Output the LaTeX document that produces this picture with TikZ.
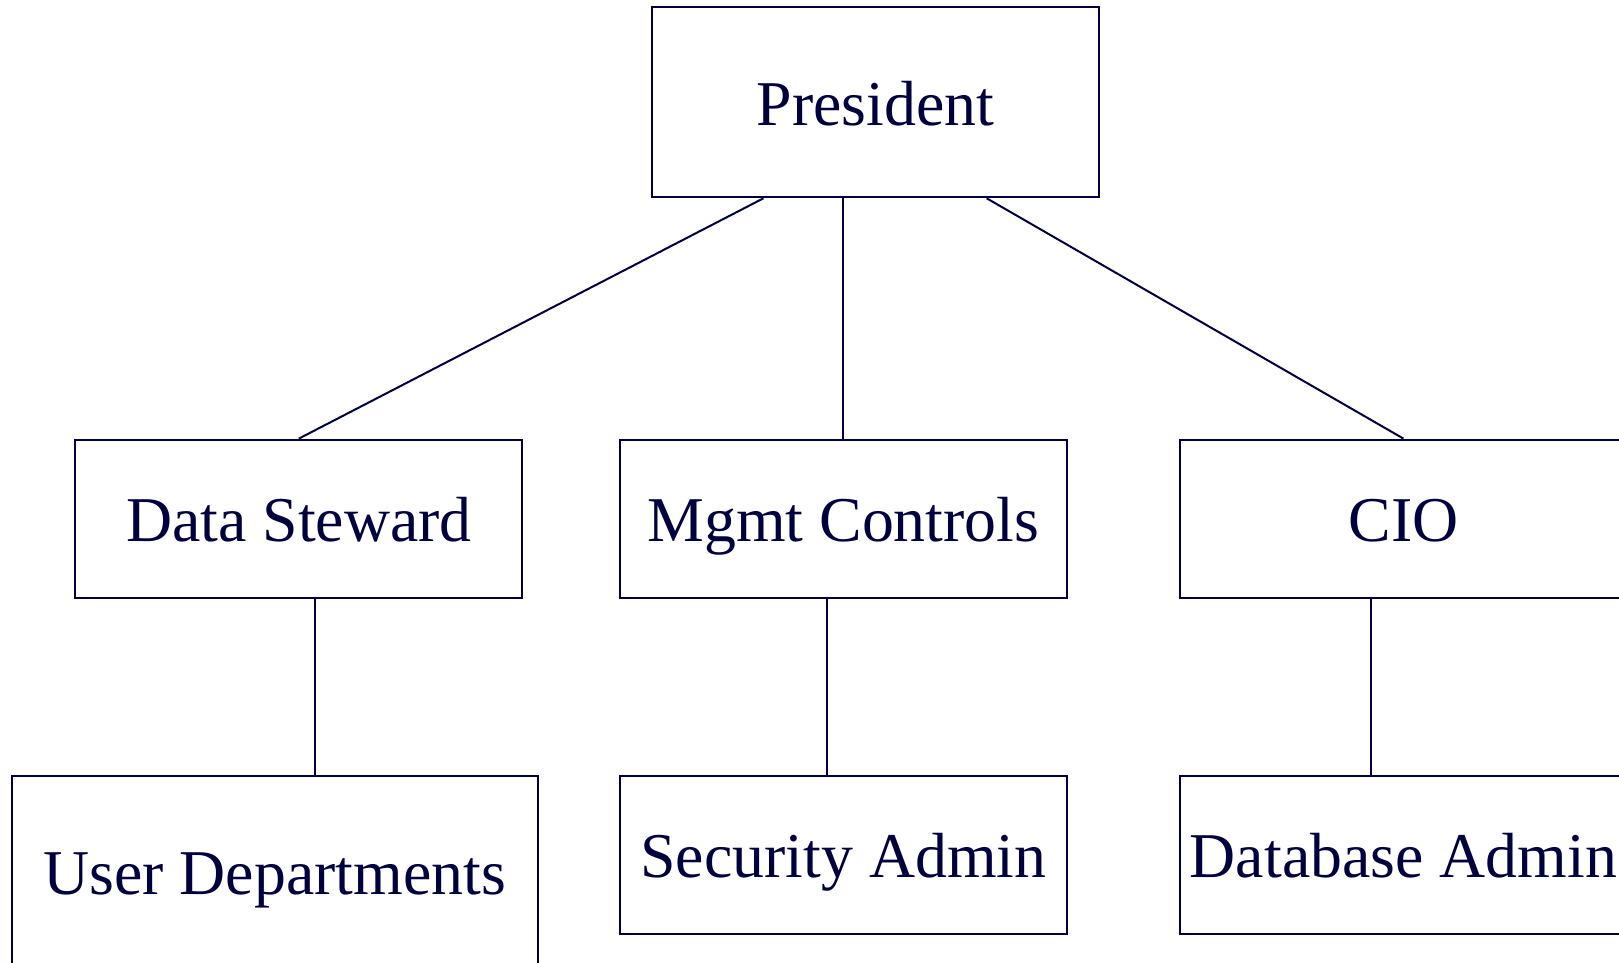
\documentclass[tikz,border=0pt]{standalone}
\usepackage{fontspec}
\setmainfont{Liberation Serif}
\definecolor{navy}{RGB}{0,0,62}
\begin{document}
\begin{tikzpicture}[x=1pt,y=-1pt,
  orgbox/.style={draw=navy, line width=2pt, rectangle, inner sep=0pt,
    minimum width=447pt, minimum height=158pt, text=navy,
    font=\fontsize{63.8}{70}\selectfont, text height=46.6pt, text depth=0pt},
  link/.style={draw=navy, line width=2pt}]
\useasboundingbox (0,0) rectangle (1619,963);
\clip (0,0) rectangle (1619,963);
\fill[white] (0,0) rectangle (1619,963);
\node[orgbox, minimum height=190pt] (pres) at (875.4,102.3) {President};
\node[orgbox] (ds)   at (298.9,518.6) {Data Steward};
\node[orgbox] (mgmt) at (843.4,518.6) {Mgmt Controls};
\node[orgbox] (cio)  at (1403.4,518.6) {CIO};
\node[orgbox, minimum width=526pt, minimum height=191pt] (ud) at (274.7,871.1) {User Departments};
\node[orgbox] (sec)  at (843.4,854.5) {Security Admin};
\node[orgbox] (dba)  at (1403.4,854.5) {Database Admin};
\draw[link] ([xshift=-112pt]pres.south) -- (ds.north);
\draw[link] ([xshift=-32pt]pres.south) -- ([xshift=-32pt]pres.south |- mgmt.north);
\draw[link] ([xshift=111.3pt]pres.south) -- (cio.north);
\draw[link] ([xshift=16pt]ds.south) -- ([xshift=16pt]ds.south |- ud.north);
\draw[link] ([xshift=-16pt]mgmt.south) -- ([xshift=-16pt]mgmt.south |- sec.north);
\draw[link] ([xshift=-32pt]cio.south) -- ([xshift=-32pt]cio.south |- dba.north);
\end{tikzpicture}
\end{document}
